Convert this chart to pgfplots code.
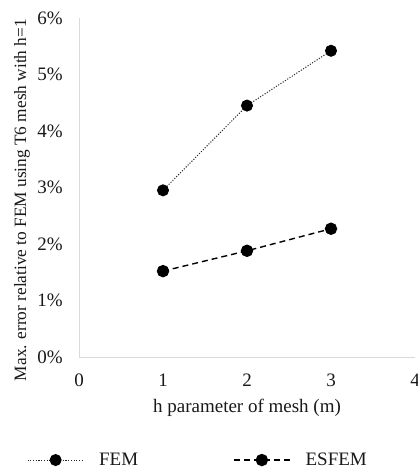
\documentclass[border=0pt]{standalone}
\usepackage{pgfplots}
\pgfplotsset{compat=1.18}
\usepackage{fontspec}
\setmainfont{Liberation Serif}
\begin{document}
\begin{tikzpicture}
\begin{axis}[
  at={(79pt,113pt)}, anchor=south west,
  scale only axis, width=336pt, height=339pt,
  xmin=0, xmax=4, ymin=0, ymax=6,
  xtick={0,1,2,3,4}, ytick={0,1,2,3,4,5,6},
  yticklabel={\pgfmathprintnumber{\tick}\%},
  /pgf/number format/assume math mode=true,
  axis x line=bottom, axis y line=left,
  axis line style={-, draw=black!15, line width=0.8pt},
  major tick length=0pt,
  font=\fontsize{19}{22}\selectfont,
  tick label style={font=\fontsize{19}{22}\selectfont, text=black!90},
  yticklabel style={inner xsep=0pt, xshift=-16pt},
  xticklabel style={inner ysep=0pt, yshift=-17pt},
  xlabel={h parameter of mesh (m)},
  ylabel={Max. error relative to FEM using T6 mesh with h=1},
  xlabel style={at={(axis description cs:0.5,-0.150)}, anchor=center, text=black!90},
  ylabel style={at={(axis description cs:-0.17,0.463)}, anchor=center, text=black!90, font=\fontsize{17.3}{20}\selectfont},
  legend image code/.code={\draw[mark repeat=2,mark phase=2] plot coordinates {(0pt,0pt)(28pt,0pt)(56pt,0pt)};},
  legend columns=2,
  legend style={at={(axis description cs:-0.155,-0.304)}, anchor=west, draw=none, fill=none,
    inner sep=0pt, nodes={inner sep=0pt, text=black!90, font=\fontsize{19}{22}\selectfont},
    /tikz/every odd column/.append style={column sep=15pt},
    /tikz/every even column/.append style={column sep=95pt}},
  legend cell align=left,
]
\addplot[black!85, line width=1pt, dash pattern=on 1.1pt off 1.6pt, mark=*, mark size=5.5pt,
  mark options={solid, fill=black, draw=black}] coordinates {(1,2.95)(2,4.45)(3,5.42)};
\addlegendentry{FEM}
\addplot[black, line width=1.4pt, dash pattern=on 6pt off 4pt, mark=*, mark size=5.5pt,
  mark options={solid, fill=black, draw=black}] coordinates {(1,1.52)(2,1.88)(3,2.27)};
\addlegendentry{ESFEM}
\end{axis}
\pgfresetboundingbox
\useasboundingbox (0pt,0pt) rectangle (417pt,470pt);
\end{tikzpicture}
\end{document}
